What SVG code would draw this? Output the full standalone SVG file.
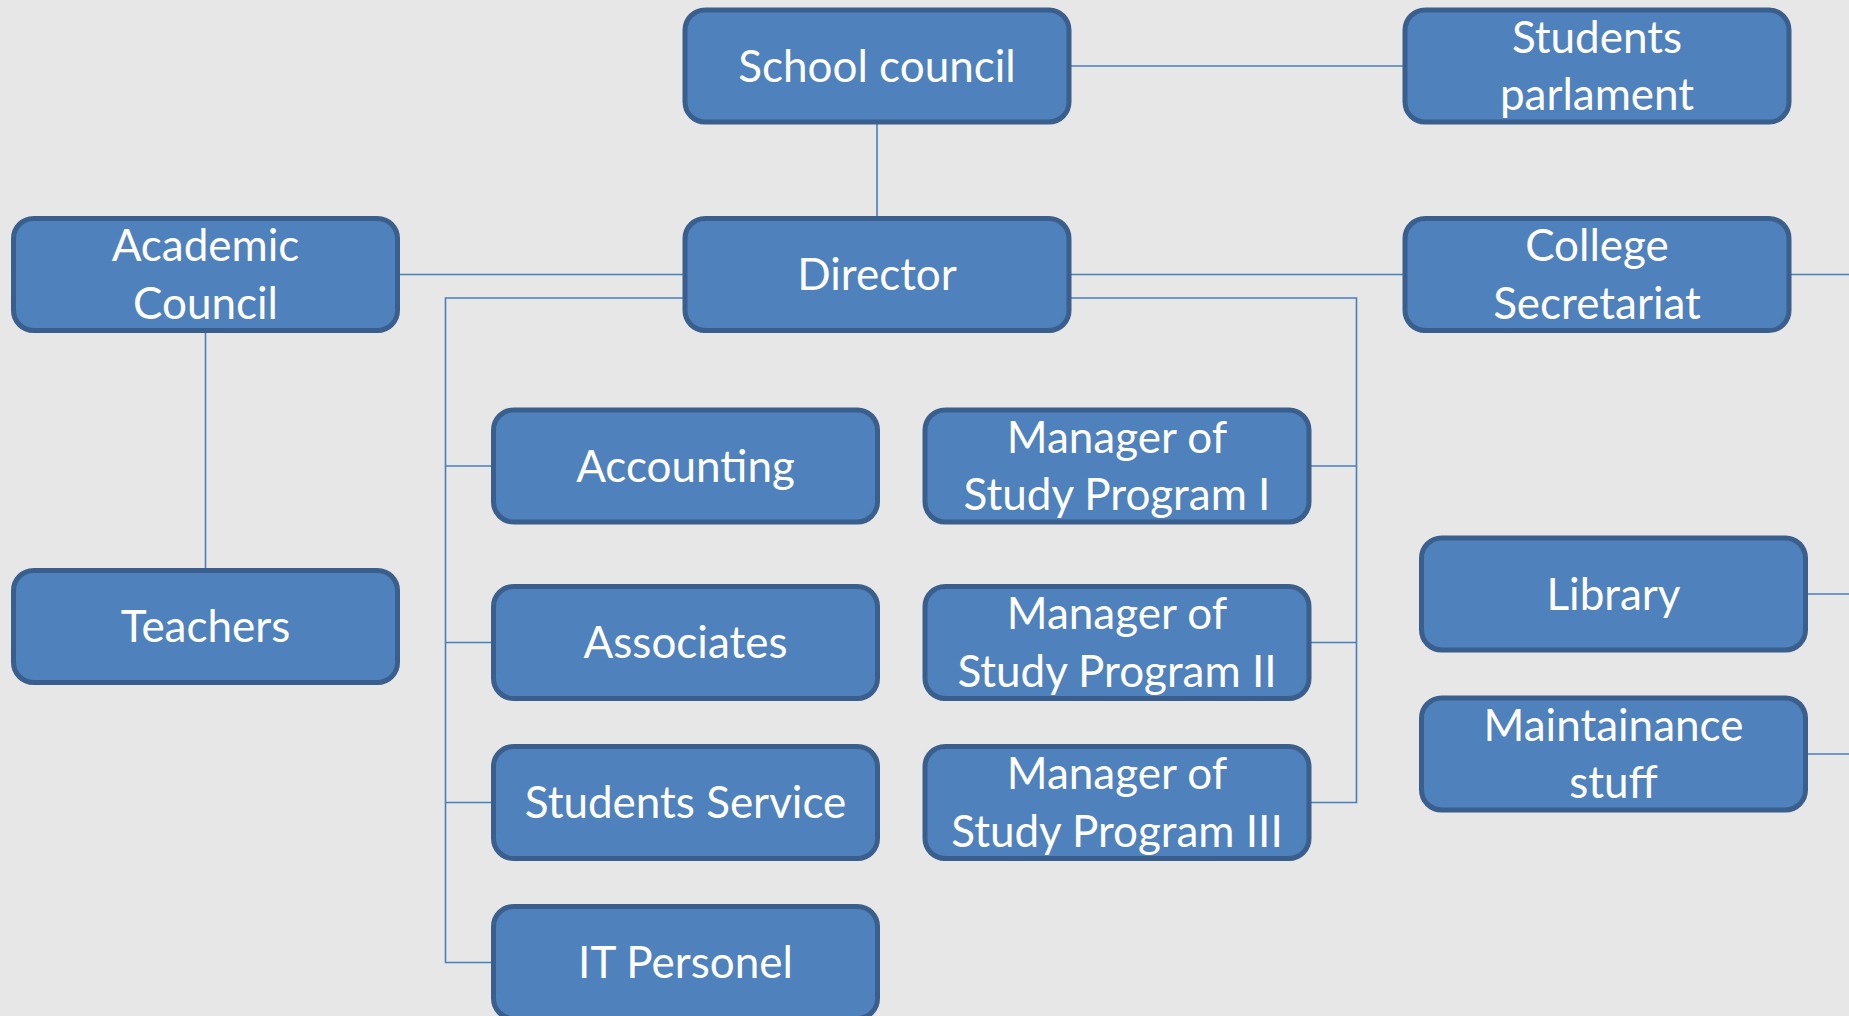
<svg xmlns="http://www.w3.org/2000/svg" width="1849" height="1016" viewBox="0 0 1849 1016">
<style>
.box{fill:#4F81BD;stroke:#3A5F8C;stroke-width:5}
.lbl{fill:#FFFFFF;font-family:Lato,"Open Sans","Liberation Sans",sans-serif;font-size:44px;text-anchor:middle}
.con{fill:none;stroke:#4A7EBB;stroke-width:1.6}
</style>
<rect width="1849" height="1016" fill="#E7E7E7"/>
<g id="connectors">
<line class="con" x1="877" y1="124" x2="877" y2="216"/>
<line class="con" x1="1071" y1="66" x2="1403" y2="66"/>
<line class="con" x1="399" y1="274.5" x2="683" y2="274.5"/>
<line class="con" x1="1071" y1="274.5" x2="1403" y2="274.5"/>
<line class="con" x1="1791" y1="274.5" x2="1849" y2="274.5"/>
<line class="con" x1="1807" y1="594" x2="1849" y2="594"/>
<line class="con" x1="1807" y1="754" x2="1849" y2="754"/>
<line class="con" x1="205.5" y1="332" x2="205.5" y2="568"/>
<polyline class="con" points="683,298 445.5,298 445.5,962.5 491,962.5"/>
<line class="con" x1="445.5" y1="466" x2="491" y2="466"/>
<line class="con" x1="445.5" y1="642.5" x2="491" y2="642.5"/>
<line class="con" x1="445.5" y1="802.5" x2="491" y2="802.5"/>
<polyline class="con" points="1071,298 1356.5,298 1356.5,802.5 1311,802.5"/>
<line class="con" x1="1311" y1="466" x2="1356.5" y2="466"/>
<line class="con" x1="1311" y1="642.5" x2="1356.5" y2="642.5"/>
</g>
<g id="school-council"><rect class="box" x="685" y="10" width="384" height="112" rx="20"/><text class="lbl" x="877" y="81.5">School council</text></g>
<g id="students-parlament"><rect class="box" x="1405" y="10" width="384" height="112" rx="20"/><text class="lbl" x="1597" y="52.7">Students</text><text class="lbl" x="1597" y="110">parlament</text></g>
<g id="director"><rect class="box" x="685" y="218.5" width="384" height="112" rx="20"/><text class="lbl" x="877" y="290">Director</text></g>
<g id="college-secretariat"><rect class="box" x="1405" y="218.5" width="384" height="112" rx="20"/><text class="lbl" x="1597" y="261">College</text><text class="lbl" x="1597" y="318.5">Secretariat</text></g>
<g id="academic-council"><rect class="box" x="13.5" y="218.5" width="384" height="112" rx="20"/><text class="lbl" x="205.5" y="261">Academic</text><text class="lbl" x="205.5" y="318.5">Council</text></g>
<g id="teachers"><rect class="box" x="13.5" y="570.5" width="384" height="112" rx="20"/><text class="lbl" x="205.5" y="642">Teachers</text></g>
<g id="accounting"><rect class="box" x="493.5" y="410" width="384" height="112" rx="20"/><text class="lbl" x="685.5" y="481.5">Accounting</text></g>
<g id="associates"><rect class="box" x="493.5" y="586.5" width="384" height="112" rx="20"/><text class="lbl" x="685.5" y="658">Associates</text></g>
<g id="students-service"><rect class="box" x="493.5" y="746.5" width="384" height="112" rx="20"/><text class="lbl" x="685.5" y="818">Students Service</text></g>
<g id="it-personel"><rect class="box" x="493.5" y="906.5" width="384" height="112" rx="20"/><text class="lbl" x="685.5" y="978">IT Personel</text></g>
<g id="manager-1"><rect class="box" x="925" y="410" width="384" height="112" rx="20"/><text class="lbl" x="1117" y="452.7">Manager of</text><text class="lbl" x="1117" y="510">Study Program I</text></g>
<g id="manager-2"><rect class="box" x="925" y="586.5" width="384" height="112" rx="20"/><text class="lbl" x="1117" y="629">Manager of</text><text class="lbl" x="1117" y="686.5">Study Program II</text></g>
<g id="manager-3"><rect class="box" x="925" y="746.5" width="384" height="112" rx="20"/><text class="lbl" x="1117" y="789">Manager of</text><text class="lbl" x="1117" y="846.5">Study Program III</text></g>
<g id="library"><rect class="box" x="1421.5" y="538" width="384" height="112" rx="20"/><text class="lbl" x="1613.5" y="609.5">Library</text></g>
<g id="maintainance-stuff"><rect class="box" x="1421.5" y="698" width="384" height="112" rx="20"/><text class="lbl" x="1613.5" y="740.5">Maintainance</text><text class="lbl" x="1613.5" y="798">stuff</text></g>
</svg>
